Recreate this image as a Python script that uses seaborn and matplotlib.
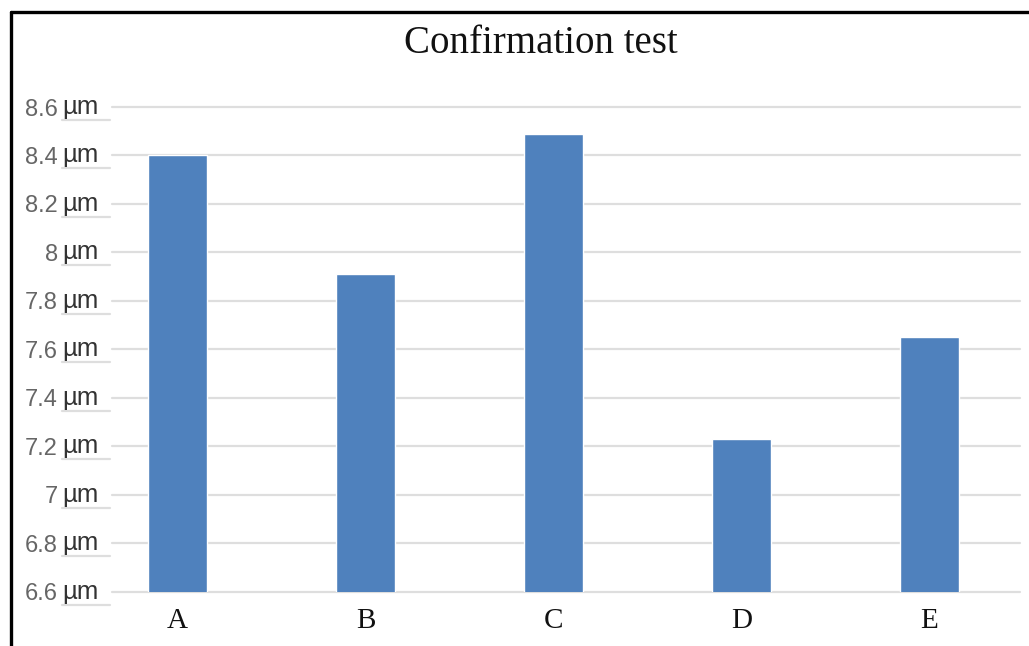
import matplotlib
matplotlib.use("Agg")
import matplotlib.pyplot as plt
import matplotlib.transforms as mtransforms
from matplotlib.lines import Line2D
import seaborn as sns
import pandas as pd

# Confirmation test results per specimen
categories = ["A", "B", "C", "D", "E"]
values_um = [8.40, 7.91, 8.49, 7.23, 7.65]
y_ticks = [6.6, 6.8, 7.0, 7.2, 7.4, 7.6, 7.8, 8.0, 8.2, 8.4, 8.6]
title = "Confirmation test"
unit = "µm"

df = pd.DataFrame({"sample": categories, "value": values_um})

sns.set_theme(style="white")
plt.rcParams["font.family"] = ["Liberation Sans", "DejaVu Sans"]

W, H = 1029, 646
fig = plt.figure(figsize=(W / 100, H / 100), dpi=100)
ax = fig.add_axes([112 / W, (H - 591.7) / H, 908 / W, (591.7 - 107) / H])

sns.barplot(data=df, x="sample", y="value", color="#4F81BD", width=0.31,
            saturation=1, ax=ax, zorder=3)

ax.set_ylim(y_ticks[0], y_ticks[-1])
ax.set_xlim(-0.348, 4.481)
ax.set_yticks(y_ticks)
ax.set_yticklabels([f"{v:g}" for v in y_ticks])
ax.set_xlabel("")
ax.set_ylabel("")

for s in ax.spines.values():
    s.set_visible(False)

# horizontal gridlines
for v in y_ticks:
    ax.axhline(v, color="#DEDEDE", lw=1.6, zorder=1, clip_on=False)

ax.tick_params(axis="y", length=0, pad=39, labelsize=17, labelcolor="#666666")
ax.tick_params(axis="x", length=0, pad=12, labelsize=21, labelcolor="#111111")
for lbl in ax.get_xticklabels():
    lbl.set_family(["Liberation Serif", "DejaVu Serif"])

# unit marks beside each tick value, with a faint rule underneath
ytrans = ax.get_yaxis_transform()
under = ytrans + mtransforms.ScaledTranslation(0, -13 / 100, fig.dpi_scale_trans)
for v in y_ticks:
    ax.text((62 - 112) / 908, v, unit, transform=ytrans, ha="left", va="center",
            fontsize=18.5, color="#333333", clip_on=False)
    ax.add_line(Line2D([(62 - 112) / 908, (110 - 112) / 908], [v, v],
                       transform=under, color="#DEDEDE", lw=1.6, clip_on=False))

fig.text(541 / W, (H - 53) / H, title, ha="center", va="baseline",
         fontsize=28, family=["Liberation Serif", "DejaVu Serif"], color="#111111")

# frame along the top and left edges
fig.add_artist(Line2D([10.5 / W, 1], [1 - 11.5 / H, 1 - 11.5 / H],
                      transform=fig.transFigure, color="black", lw=2.4))
fig.add_artist(Line2D([10.5 / W, 10.5 / W], [0, 1 - 11.5 / H],
                      transform=fig.transFigure, color="black", lw=2.4))

fig.savefig("out.png", dpi=100, facecolor="white")
